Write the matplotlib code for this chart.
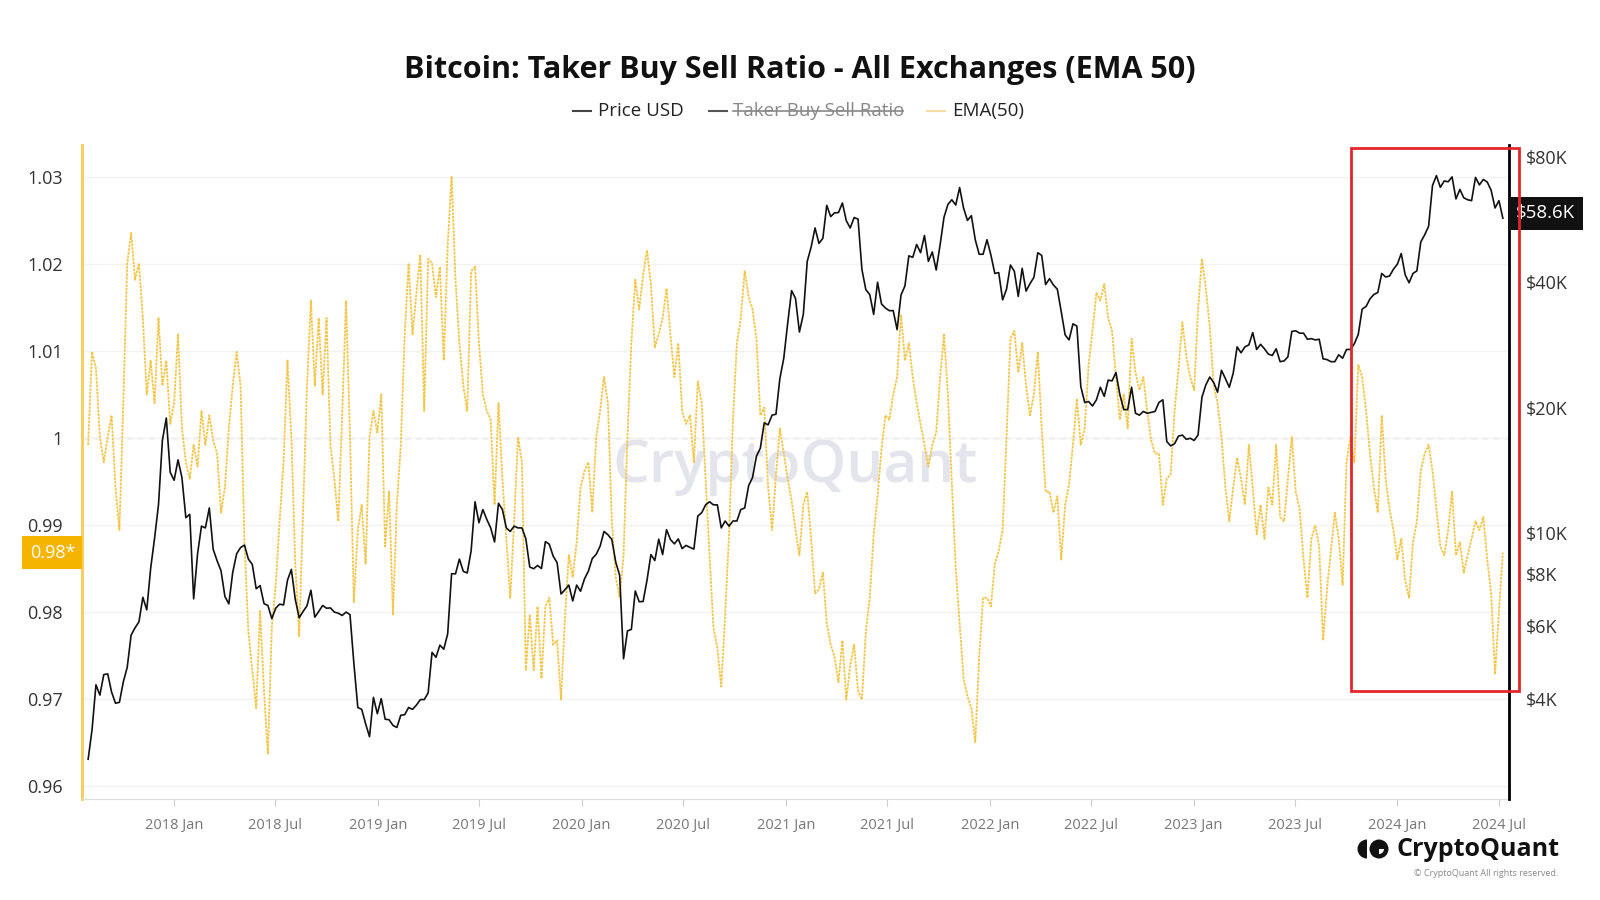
import matplotlib
matplotlib.use("Agg")
import matplotlib.pyplot as plt
import matplotlib.dates as mdates
import matplotlib.transforms as mtransforms
from matplotlib.lines import Line2D
from matplotlib.patches import Rectangle, Wedge, Circle
from matplotlib.ticker import NullLocator
import pandas as pd

plt.rcParams['font.family'] = ['Open Sans', 'DejaVu Sans']

# ====== data (weekly, Mondays from 2017-07-31) ======
START = '2017-07-31'

price_2017 = [2870, 3380, 4330, 4090, 4580, 4600, 4160, 3910, 3930, 4400, 4770,
              5700, 5930, 6130, 7020, 6550, 8240, 9730, 11700, 16700, 18900, 14000]
price_2018 = [13400, 15000, 13600, 10900, 11100, 6960, 8930, 10400, 10300, 11500,
              9150, 8590, 8130, 7050, 6770, 8060, 8930, 9240, 9370, 8670, 8420,
              7360, 7490, 6780, 6710, 6240, 6610, 6760, 6730, 7710, 8190, 6940,
              6270, 6490, 6700, 7300, 6290, 6490, 6710, 6610, 6620, 6470, 6430,
              6350, 6470, 6380, 4870, 3820, 3780, 3490, 3250, 4040, 3690]
price_2019 = [4010, 3580, 3570, 3460, 3420, 3660, 3670, 3820, 3780, 3870, 3990,
              3990, 4140, 5180, 5040, 5390, 5270, 5740, 8000, 7990, 8670, 8100,
              8030, 9080, 11900, 10600, 11400, 10800, 10300, 9530, 11800, 11400,
              10300, 10100, 10400, 10300, 10300, 9700, 8300, 8220, 8370, 8230,
              9550, 9410, 8810, 8500, 7150, 7320, 7510, 6880, 7510, 7260]
price_2020 = [7770, 8110, 8700, 8900, 9310, 10100, 9920, 9660, 8530, 7930, 5000,
              5830, 5880, 7270, 6850, 6860, 7710, 8890, 8600, 9680, 8890, 10200,
              9660, 9430, 9690, 9190, 9350, 9250, 9160, 11000, 11200, 11700, 11900,
              11700, 11700, 10300, 10700, 10400, 10700, 10700, 11400, 11500, 13000,
              13600, 15300, 16000, 18400, 18200, 19200, 19300, 23500, 26300]
price_2021 = [31900, 38200, 36600, 30400, 33500, 44900, 48600, 54000, 49600, 51000,
              61200, 57500, 58700, 58800, 62000, 56200, 54000, 57200, 56700, 42900,
              38400, 37400, 33500, 40000, 35500, 34700, 34200, 34200, 30800, 37300,
              39200, 46300, 45900, 49300, 47100, 51800, 44900, 47300, 42800, 49200,
              57300, 61500, 63100, 61300, 67500, 60300, 56300, 57800, 50600, 46700,
              46700, 50600]
price_2022 = [46500, 42000, 42200, 36300, 38500, 44000, 42500, 37000, 43200, 38100,
              39700, 41100, 47100, 46400, 39500, 40800, 39400, 38500, 34000, 29900,
              29100, 31800, 31400, 22500, 20600, 20700, 20200, 20900, 22400, 21300,
              23300, 23200, 24300, 21500, 19800, 19800, 22400, 19400, 19200, 19600,
              19400, 19500, 19600, 20600, 20900, 16600, 16200, 16400, 17100, 17200,
              16800, 16900]
price_2023 = [16700, 17200, 21200, 22700, 23700, 23000, 21800, 24600, 23500, 22400,
              24200, 28000, 27100, 28000, 28300, 30300, 27600, 28400, 27700, 26900,
              26700, 27700, 25800, 25900, 26500, 30500, 30600, 30200, 30200, 29200,
              29300, 29100, 29200, 26200, 26100, 25800, 25800, 26800, 26300, 27600,
              27600, 28500, 30000, 34500, 35000, 36500, 37400, 37800, 42000, 41200,
              41400, 43000]
price_2024 = [44200, 46900, 41700, 39900, 42000, 42600, 50000, 52000, 54500, 68300,
              72100, 67600, 70000, 69700, 71600, 63400, 66800, 63800, 63100, 62800,
              71400, 68500, 70600, 69600, 66500, 60300, 62800, 57000]

ema_2017 = [0.9992, 1.0099, 1.0080, 1.0001, 0.9972, 1.0001, 1.0026, 0.9943, 0.9894,
            1.0040, 1.0201, 1.0236, 1.0182, 1.0201, 1.0138, 1.0050, 1.0089, 1.0040,
            1.0138, 1.0060, 1.0089, 1.0016]
ema_2018 = [1.0040, 1.0119, 1.0011, 0.9972, 0.9953, 0.9992, 0.9967, 1.0031, 0.9992,
            1.0026, 0.9997, 0.9982, 0.9914, 0.9943, 1.0011, 1.0060, 1.0099, 1.0060,
            0.9880, 0.9777, 0.9733, 0.9689, 0.9801, 0.9709, 0.9636, 0.9782, 0.9831,
            0.9904, 0.9972, 1.0089, 1.0001, 0.9855, 0.9772, 0.9914, 1.0060, 1.0158,
            1.0060, 1.0138, 1.0050, 1.0138, 0.9992, 0.9953, 0.9904, 1.0026, 1.0158,
            1.0001, 0.9811, 0.9894, 0.9923, 0.9855, 1.0001, 1.0031, 1.0006]
ema_2019 = [1.0050, 0.9875, 0.9938, 0.9797, 0.9923, 0.9992, 1.0119, 1.0201, 1.0119,
            1.0167, 1.0211, 1.0031, 1.0206, 1.0201, 1.0162, 1.0197, 1.0089, 1.0221,
            1.0301, 1.0182, 1.0109, 1.0060, 1.0031, 1.0192, 1.0197, 1.0109, 1.0050,
            1.0031, 1.0021, 0.9923, 1.0040, 0.9953, 0.9884, 0.9816, 0.9904, 1.0001,
            0.9972, 0.9733, 0.9797, 0.9733, 0.9806, 0.9723, 0.9806, 0.9816, 0.9762,
            0.9767, 0.9699, 0.9792, 0.9865, 0.9840, 0.9880, 0.9943]
ema_2020 = [0.9962, 0.9972, 0.9914, 1.0001, 1.0031, 1.0070, 1.0040, 0.9904, 0.9840,
            0.9816, 0.9865, 1.0001, 1.0109, 1.0182, 1.0148, 1.0187, 1.0216, 1.0177,
            1.0104, 1.0119, 1.0138, 1.0172, 1.0119, 1.0070, 1.0109, 1.0031, 1.0016,
            1.0026, 0.9972, 1.0065, 1.0040, 0.9953, 0.9865, 0.9782, 0.9758, 0.9714,
            0.9797, 0.9889, 1.0021, 1.0109, 1.0138, 1.0192, 1.0162, 1.0148, 1.0114,
            1.0026, 1.0035, 0.9943, 0.9894, 0.9957, 1.0011, 0.9982]
ema_2021 = [0.9953, 0.9928, 0.9894, 0.9865, 0.9923, 0.9938, 0.9884, 0.9821, 0.9826,
            0.9845, 0.9787, 0.9762, 0.9748, 0.9719, 0.9767, 0.9699, 0.9738, 0.9762,
            0.9709, 0.9699, 0.9777, 0.9816, 0.9889, 0.9933, 0.9987, 1.0026, 1.0021,
            1.0050, 1.0070, 1.0142, 1.0089, 1.0109, 1.0070, 1.0040, 1.0016, 0.9992,
            0.9967, 0.9992, 1.0006, 1.0070, 1.0119, 1.0050, 0.9947, 0.9850, 0.9787,
            0.9723, 0.9703, 0.9689, 0.9650, 0.9748, 0.9816, 0.9816]
ema_2022 = [0.9806, 0.9855, 0.9870, 0.9894, 1.0001, 1.0114, 1.0123, 1.0075, 1.0109,
            1.0060, 1.0026, 1.0050, 1.0099, 1.0011, 0.9938, 0.9938, 0.9914, 0.9933,
            0.9860, 0.9923, 0.9947, 0.9992, 1.0045, 0.9992, 1.0011, 1.0084, 1.0123,
            1.0167, 1.0158, 1.0177, 1.0138, 1.0123, 1.0070, 1.0021, 1.0050, 1.0011,
            1.0114, 1.0075, 1.0055, 1.0070, 1.0031, 0.9997, 0.9982, 0.9982, 0.9923,
            0.9953, 0.9958, 1.0031, 1.0080, 1.0133, 1.0094, 1.0070]
ema_2023 = [1.0055, 1.0148, 1.0206, 1.0172, 1.0128, 1.0060, 1.0040, 1.0001, 0.9943,
            0.9904, 0.9943, 0.9977, 0.9953, 0.9923, 0.9992, 0.9943, 0.9889, 0.9923,
            0.9884, 0.9943, 0.9923, 0.9992, 0.9909, 0.9904, 0.9953, 1.0001, 0.9938,
            0.9918, 0.9860, 0.9816, 0.9884, 0.9899, 0.9875, 0.9767, 0.9826, 0.9870,
            0.9914, 0.9884, 0.9831, 0.9972, 1.0001, 0.9972, 1.0084, 1.0070, 1.0031,
            0.9982, 0.9943, 0.9914, 1.0026, 0.9953, 0.9918, 0.9894]
ema_2024 = [0.9860, 0.9884, 0.9836, 0.9816, 0.9880, 0.9904, 0.9962, 0.9982, 0.9992,
            0.9962, 0.9918, 0.9875, 0.9865, 0.9894, 0.9938, 0.9865, 0.9880, 0.9845,
            0.9865, 0.9884, 0.9904, 0.9894, 0.9909, 0.9860, 0.9821, 0.9728, 0.9801,
            0.9868]

price_usd = (price_2017 + price_2018 + price_2019 + price_2020 + price_2021
             + price_2022 + price_2023 + price_2024)
ema_50 = (ema_2017 + ema_2018 + ema_2019 + ema_2020 + ema_2021
          + ema_2022 + ema_2023 + ema_2024)

price_dates = pd.date_range(START, periods=len(price_usd), freq='7D')
ema_dates = pd.date_range(START, periods=len(ema_50), freq='7D')

ratio_ticks = [0.96, 0.97, 0.98, 0.99, 1.0, 1.01, 1.02, 1.03]
ratio_labels = ['0.96', '0.97', '0.98', '0.99', '1', '1.01', '1.02', '1.03']
price_ticks = [4000, 6000, 8000, 10000, 20000, 40000, 80000]
price_labels = ['$4K', '$6K', '$8K', '$10K', '$20K', '$40K', '$80K']
price_tag = 58600
ema_tag = '0.98*'

YELLOW = '#F4C445'

# ====== figure ======
fig = plt.figure(figsize=(16, 9), dpi=100)
ax = fig.add_axes([0.05125, 0.1117, 0.891875, 0.7272])
ax2 = ax.twinx()

ax.plot(ema_dates, ema_50, color=YELLOW, lw=1.3, linestyle=(0, (1.4, 0.6)), zorder=2)
ax2.plot(price_dates, price_usd, color='#111111', lw=1.2, zorder=3)

ax.set_xlim(pd.Timestamp('2017-07-20'), pd.Timestamp('2024-07-19'))
ax.set_ylim(0.9584, 1.0337)
ax2.set_yscale('log')
ax2.set_ylim(2298, 85400)

# spines
for s in ['top', 'right']:
    ax.spines[s].set_visible(False)
for s in ['top', 'left', 'bottom']:
    ax2.spines[s].set_visible(False)
ax.spines['left'].set_color('#F5CC55')
ax.spines['left'].set_linewidth(2)
ax.spines['bottom'].set_color('#dddddd')
ax2.spines['right'].set_color('#000000')
ax2.spines['right'].set_linewidth(2)

# ticks
ax.set_yticks(ratio_ticks)
ax.set_yticklabels(ratio_labels)
ax.tick_params(axis='y', length=0, pad=14, labelsize=13, labelcolor='#333333')
ax.grid(axis='y', color='#f2f2f2', lw=1)
ax.axhline(1.0, color='#bdbdbd', lw=1, linestyle=(0, (4, 4)), zorder=1)

ax2.set_yticks(price_ticks)
ax2.set_yticklabels(price_labels)
ax2.yaxis.set_minor_locator(NullLocator())
ax2.tick_params(axis='y', length=0, pad=12, labelsize=13, labelcolor='#333333')

ax.xaxis.set_major_locator(mdates.MonthLocator(bymonth=[1, 7]))
ax.xaxis.set_major_formatter(mdates.DateFormatter('%Y %b'))
ax.tick_params(axis='x', length=5, color='#cccccc', pad=8, labelsize=10.5,
               labelcolor='#777777')

# watermark
ax.text(0.5, 0.508, 'CryptoQuant', transform=ax.transAxes, ha='center', va='center',
        fontsize=42, fontweight='semibold', color='#e4e4ec', zorder=0.5)

# last value tags
ax.annotate(ema_tag, xy=(0, ema_50[-1]), xycoords=('axes fraction', 'data'),
            xytext=(-5, 0), textcoords='offset points', ha='right', va='center',
            fontsize=13, color='white', annotation_clip=False,
            bbox=dict(boxstyle='square,pad=0.4', fc='#F5B400', ec='none'))
ax2.annotate('$%.1fK' % (price_tag / 1000), xy=(1, price_tag),
             xycoords=('axes fraction', 'data'), xytext=(5, 0),
             textcoords='offset points', ha='left', va='center', fontsize=13.5,
             color='white', annotation_clip=False,
             bbox=dict(boxstyle='square,pad=0.4', fc='#111111', ec='none'))

# highlight box
x0 = mdates.date2num(pd.Timestamp('2023-10-10'))
x1 = mdates.date2num(pd.Timestamp('2024-08-06'))
ax2.add_patch(Rectangle((x0, 4180), x1 - x0, 83900 - 4180, fill=False,
                        ec='#E3262B', lw=2, clip_on=False, zorder=10))

# title + legend
fig.text(0.5, 0.922, 'Bitcoin: Taker Buy Sell Ratio - All Exchanges (EMA 50)',
         ha='center', va='center', fontsize=22, fontweight='bold', color='#111111')

ly = 1 - 111 / 900
legend_items = [(573, 598, 'Price USD', '#444444', '#222222'),
                (709, 733, 'Taker Buy Sell Ratio', '#555555', '#888888'),
                (927, 952, 'EMA(50)', '#F5DFA5', '#222222')]
for lx, tx, label, lc, tc in legend_items:
    fig.add_artist(Line2D([lx / 1600, (lx + 18) / 1600], [ly, ly], color=lc, lw=1.5))
    fig.text(tx / 1600, ly, label, ha='left', va='center', fontsize=13.5, color=tc)
fig.add_artist(Line2D([733 / 1600, 903 / 1600], [ly, ly], color='#888888', lw=1.2))

# logo bottom right
px = mtransforms.IdentityTransform()
fig.add_artist(Wedge((1367, 51), 9.5, 90, 270, fc='#111111', ec='none', transform=px))
fig.add_artist(Circle((1379, 51), 9.5, fc='#111111', ec='none', transform=px))
fig.add_artist(Wedge((1379, 51), 5, 270, 360, fc='white', ec='none', transform=px))
fig.text(1396 / 1600, 51 / 900, 'CryptoQuant', ha='left', va='center', fontsize=18,
         fontweight='bold', color='#111111')
fig.text(1558 / 1600, 27 / 900, '\u00a9 CryptoQuant All rights reserved.', ha='right',
         va='center', fontsize=6.5, color='#888888')

fig.savefig('out.png', dpi=100)
